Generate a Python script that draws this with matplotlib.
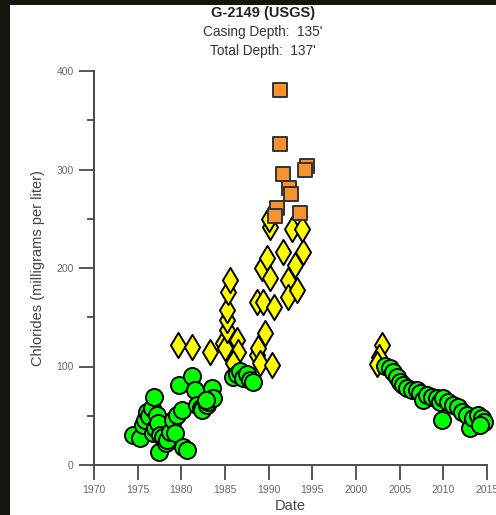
import matplotlib.pyplot as plt
from matplotlib.patches import Rectangle

plt.rcParams['font.family'] = ['Liberation Sans', 'DejaVu Sans']

title = "G-2149 (USGS)"
casing_text = "Casing Depth:  135'"
total_text = "Total Depth:  137'"
x_label = "Date"
y_label = "Chlorides (milligrams per liter)"

x_ticks = [1970, 1975, 1980, 1985, 1990, 1995, 2000, 2005, 2010, 2015]
y_ticks = [0, 100, 200, 300, 400]

# green circles (lowest chloride range)
green_year = [1974.5, 1975.3, 1975.6, 1975.8, 1976.1, 1976.3, 1976.6, 1976.9, 1976.8, 1977.0,
              1977.2, 1977.3, 1977.4, 1977.6, 1977.9, 1978.2, 1978.4, 1978.7, 1979.1, 1979.3,
              1979.5, 1980.1, 1979.7, 1980.2, 1980.6, 1981.2, 1981.6, 1981.8, 1982.2, 1982.4,
              1982.9, 1983.1, 1983.5, 1983.6, 1982.8,
              1985.9, 1986.4, 1986.7, 1987.1, 1987.5, 1987.9, 1988.2,
              2003.3, 2003.9, 2004.2, 2004.7, 2005.0, 2005.4, 2005.8, 2006.4, 2007.0, 2007.3,
              2007.7, 2008.1, 2008.7, 2009.3, 2009.6, 2010.0, 2010.5, 2009.9, 2011.1, 2011.7,
              2012.1, 2012.7, 2013.1, 2013.4, 2014.0, 2014.4, 2014.6, 2014.2]
green_cl = [30, 27, 41, 46, 54, 50, 58, 69, 32, 38,
            51, 43, 13, 30, 28, 22, 25, 33, 46, 32,
            51, 56, 81, 18, 15, 90, 76, 61, 58, 56,
            61, 64, 78, 68, 66,
            89, 92, 95, 88, 92, 86, 84,
            101, 98, 94, 89, 84, 81, 78, 76, 76, 73,
            66, 71, 69, 68, 64, 68, 64, 46, 61, 59,
            54, 51, 38, 48, 51, 48, 44, 41]

# yellow diamonds (middle range)
yellow_year = [1979.6, 1981.2, 1983.3, 1984.8, 1985.0, 1985.2, 1985.2, 1985.2, 1985.4, 1985.6,
               1986.4, 1986.5, 1985.9, 1988.7, 1988.8, 1989.6, 1989.0, 1990.4, 1988.7, 1989.4,
               1990.6, 1989.2, 1989.8, 1990.2, 1990.2, 1990.0, 1991.6, 1992.2, 1992.2, 1993.2,
               1993.0, 1993.9, 1992.7, 1993.8,
               2003.0, 2002.6, 2002.4]
yellow_cl = [122, 120, 115, 124, 119, 137, 147, 157, 176, 188,
             127, 115, 104, 112, 119, 134, 104, 102, 165, 165,
             160, 200, 210, 190, 242, 250, 216, 188, 171, 178,
             203, 216, 240, 240,
             122, 110, 103]

# orange squares (highest range)
orange_year = [1991.3, 1991.3, 1991.6, 1992.3, 1992.5, 1990.9, 1990.7, 1993.6, 1994.4, 1994.2]
orange_cl = [381, 326, 295, 281, 275, 261, 253, 256, 304, 300]


def main():
    fig = plt.figure(figsize=(4.96, 5.15), dpi=100)
    fig.patch.set_facecolor("#15170f")
    fig.add_artist(Rectangle((10 / 496, 0), 1, 1 - 5 / 515, transform=fig.transFigure,
                             facecolor="white", edgecolor="none", zorder=0))

    ax = fig.add_axes([94 / 496, 50 / 515, 393 / 496, 394 / 515])
    ax.set_facecolor("none")

    ax.scatter(yellow_year, yellow_cl, marker="d", s=165, color="#ffff00",
               edgecolor="black", linewidth=1.4, zorder=3, clip_on=False)
    ax.scatter(orange_year, orange_cl, marker="s", s=112, color="#f7922f",
               edgecolor="#333333", linewidth=1.4, zorder=4, clip_on=False)
    ax.scatter(green_year, green_cl, marker="o", s=150, color="#00ff00",
               edgecolor="black", linewidth=1.4, zorder=5, clip_on=False)

    ax.set_xlim(1970, 2015)
    ax.set_ylim(0, 400)
    ax.set_xticks(x_ticks)
    ax.set_yticks(y_ticks)
    ax.set_yticks([50, 150, 250, 350], minor=True)

    for side in ["top", "right"]:
        ax.spines[side].set_visible(False)
    for side in ["left", "bottom"]:
        ax.spines[side].set_color("#4a4a4a")
        ax.spines[side].set_linewidth(1.4)

    ax.tick_params(which="major", length=10.5, width=1.3, color="#4a4a4a",
                   labelsize=7.5, labelcolor="#666666", pad=4)
    ax.tick_params(which="minor", length=5, width=1.3, color="#4a4a4a")

    ax.set_xlabel(x_label, fontsize=10.5, color="#444444", labelpad=3)
    ax.set_ylabel(y_label, fontsize=10.5, color="#444444", labelpad=8)

    fig.text(263 / 496, 1 - 13 / 515, title, ha="center", va="center",
             fontsize=10.5, fontweight="bold", color="#222222")
    fig.text(263 / 496, 1 - 32 / 515, casing_text, ha="center", va="center",
             fontsize=9.8, color="#333333")
    fig.text(263 / 496, 1 - 51 / 515, total_text, ha="center", va="center",
             fontsize=9.8, color="#333333")

    fig.savefig("out.png", dpi=100)


if __name__ == '__main__':
    main()
